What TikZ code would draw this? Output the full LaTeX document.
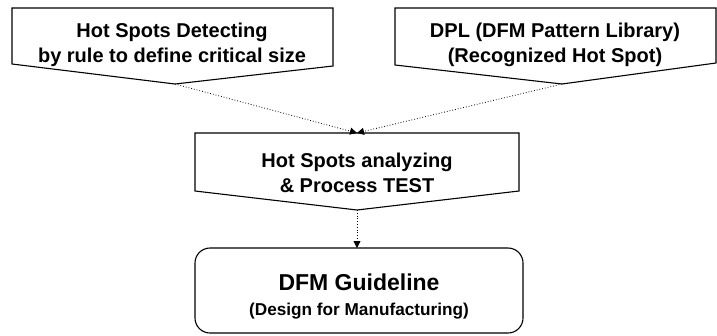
\documentclass[tikz,border=0pt]{standalone}
\usepackage{fontspec}
\setmainfont{Liberation Sans}
\usetikzlibrary{arrows.meta,calc}
\tikzset{
  >={Triangle[length=7pt,width=7pt]},
  flowbox/.style={draw, line width=1.1pt, line join=miter, fill=white},
  boxtext/.style={font=\fontsize{20}{25}\selectfont\bfseries, align=center, inner sep=0pt},
  link/.style={->, dotted, line width=0.8pt, shorten >=0pt},
}

\begin{document}
\begin{tikzpicture}[x=1pt, y=-1pt]
\useasboundingbox (0,0) rectangle (717,335);

% corner points of the arrow-shaped boxes
\coordinate (hsdTip) at (175,84);
\coordinate (dplTip) at (562,84);
\coordinate (anaTop) at (357,133);
\coordinate (anaTip) at (357,210);

\draw[flowbox] (12,8) -- (333,8) -- (333,66) -- (hsdTip) -- (12,64) -- cycle;
\draw[flowbox] (395,8) -- (716,8) -- (716,63) -- (dplTip) -- (395,65) -- cycle;
\draw[flowbox] (195,133) -- (519,133) -- (519,191) -- (anaTip) -- (195,191) -- cycle;
\draw[flowbox, rounded corners=15pt] (195,248) rectangle (523,333);

\node[boxtext] (hsd) at (172,45) {Hot Spots Detecting\\by rule to define critical size};
\node[boxtext] (dpl) at (555,45) {DPL (DFM Pattern Library)\\(Recognized Hot Spot)};
\node[boxtext] (ana) at (357,173) {Hot Spots analyzing\\\& Process TEST};
\node[boxtext] (guide) at (359,296) {{\fontsize{23}{25}\selectfont DFM Guideline}\\{\fontsize{17.2}{25}\selectfont (Design for Manufacturing)}};

\coordinate (guideTop) at (357,248);

\draw[link] (hsdTip) -- (anaTop);
\draw[link] (dplTip) -- (anaTop);
\draw[link] (anaTip) -- (guideTop);

\end{tikzpicture}
\end{document}
